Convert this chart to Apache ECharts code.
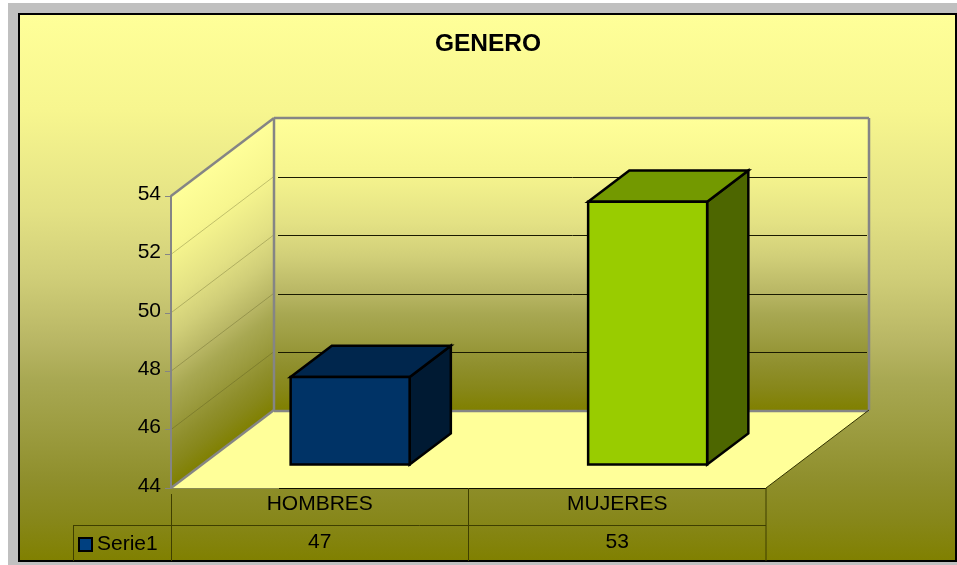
<!DOCTYPE html>
<html><head><meta charset="utf-8">
<style>html,body{margin:0;padding:0;background:#fff}#c{width:957px;height:565px}</style>
<script src="https://cdn.jsdelivr.net/npm/echarts@6/dist/echarts.min.js"></script>
</head><body><div id="c"></div>
<script>
const categories = ['HOMBRES', 'MUJERES'];
const seriesName = 'Serie1';
const values = [47, 53];
const axisMin = 44, axisMax = 54, axisStep = 2;
const tickValues = [44, 46, 48, 50, 52, 54];
const chartTitle = 'GENERO';

const DEPTH_X = 103, DEPTH_Y = -78;
const FONT = '"Liberation Sans", Arial, sans-serif';
const facePalette = [
  { front: '#003366', top: '#00264d', side: '#001a33' },
  { front: '#99cc00', top: '#739900', side: '#4d6600' }
];
const gradientStops = [
  { offset: 0, color: '#ffff99' }, { offset: 0.175, color: '#f7f68f' },
  { offset: 0.36, color: '#e3e184' }, { offset: 0.48, color: '#d0ce78' },
  { offset: 0.6, color: '#b8b664' }, { offset: 0.67, color: '#a8a852' },
  { offset: 0.76, color: '#9c9c40' }, { offset: 0.85, color: '#8f8f2c' },
  { offset: 0.925, color: '#87871a' }, { offset: 1, color: '#808000' }
];
const chart = echarts.init(document.getElementById('c'));
const grad = (x, y, x2, y2) => ({ type: 'linear', global: true, x, y, x2, y2, colorStops: gradientStops });
const poly = (points, style, z2) => ({ type: 'polygon', shape: { points }, style, z2 });
const line = (x1, y1, x2, y2, stroke, lineWidth) => ({ type: 'line', shape: { x1, y1, x2, y2 },
  style: { stroke, lineWidth, fill: null } });

function renderWalls(params, api) {
  const g = params.coordSys;
  const L = g.x, R = g.x + g.width, T = g.y, B = g.y + g.height;
  const dx = DEPTH_X, dy = DEPTH_Y;
  const c = [];
  const len = Math.sqrt(dx * dx + dy * dy), h = B - T;
  const nx = -dy / len, ny = dx / len, proj = h * ny;
  c.push(poly([[L, T], [L + dx, T + dy], [L + dx, B + dy], [L, B]],
    { fill: grad(L, T, L + nx * proj, T + ny * proj) }));
  c.push(poly([[L + dx, T + dy], [R + dx, T + dy], [R + dx, B + dy], [L + dx, B + dy]],
    { fill: grad(0, T + dy, 0, B + dy) }));
  c.push(poly([[L, B], [R, B], [R + dx, B + dy], [L + dx, B + dy]], { fill: '#ffff99' }));
  tickValues.forEach(v => {
    if (v === axisMin || v === axisMax) return;
    const y = api.coord([0, v])[1];
    c.push(line(L, y, L + dx, y + dy, 'rgba(70,70,20,0.5)', 0.6));
    const by = Math.ceil(y + dy) + 0.5;
    c.push(line(L + dx + 4, by, R + dx - 2, by, '#1a1a00', 1));
  });
  const grey = '#858585';
  c.push(line(L, T, L + dx, T + dy, grey, 2.5));
  c.push(line(L, B, L + dx, B + dy, grey, 2.5));
  c.push(line(L + dx, T + dy, L + dx, B + dy, grey, 2.5));
  c.push(line(L + dx, T + dy, R + dx, T + dy, grey, 2.5));
  c.push(line(R + dx, T + dy, R + dx, B + dy, grey, 2.5));
  c.push(line(L + dx, B + dy + 1, R + dx, B + dy + 1, grey, 2.5));
  c.push(line(R, B, R + dx, B + dy, '#333300', 1));
  const tableInk = '#3f3f00';
  const mid = g.x + g.width / 2;
  c.push(line(L, B + .5, L + 108, B + .5, '#8a8a50', 1));
  c.push(line(L + 108, B + .5, R, B + .5, '#111100', 1));
  c.push(line(73, B + 37.5, R, B + 37.5, tableInk, 1));
  c.push(line(73.5, B + 37, 73.5, B + 73, tableInk, 1));
  c.push(line(L + .5, B + 6, L + .5, B + 73, tableInk, 1));
  c.push(line(mid, B, mid, B + 73, tableInk, 1));
  c.push(line(R, B, R, B + 73, tableInk, 1));
  return { type: 'group', children: c };
}

function renderBar(params, api) {
  const i = api.value(0), v = api.value(1);
  const top = api.coord([i, v]), base = api.coord([i, axisMin]);
  const band = api.size([1, 0])[0];
  const w = band * 0.4;
  const ox = DEPTH_X * 0.295, oy = DEPTH_Y * 0.3;
  const dx = DEPTH_X * 0.4, dy = DEPTH_Y * 0.4;
  const x0 = top[0] + ox - w / 2, x1 = x0 + w, yT = top[1] + oy, yB = base[1] + oy;
  const p = facePalette[i];
  const stroke = { stroke: '#000', lineWidth: 2.5, lineJoin: 'miter' };
  return { type: 'group', children: [
    poly([[x1, yT], [x1 + dx, yT + dy], [x1 + dx, yB + dy], [x1, yB]], { ...stroke, fill: p.side }),
    poly([[x0, yT], [x0 + dx, yT + dy], [x1 + dx, yT + dy], [x1, yT]], { ...stroke, fill: p.top }),
    poly([[x0, yT], [x1, yT], [x1, yB], [x0, yB]], { ...stroke, fill: p.front }),
    { type: 'text', x: top[0], y: base[1] + 54, style: { text: String(v), font: '21px ' + FONT,
      fill: '#000', align: 'center', verticalAlign: 'middle' } }
  ] };
}

chart.setOption({
  animation: false,
  backgroundColor: '#ffffff',
  graphic: [
    { type: 'rect', z: -10, shape: { x: 8, y: 3, width: 949, height: 562 }, style: { fill: '#c0c0c0' } },
    { type: 'rect', z: -9, shape: { x: 19, y: 14, width: 937, height: 547 },
      style: { fill: grad(0, 14, 0, 561), stroke: '#000', lineWidth: 2 } }
  ],
  title: { text: chartTitle, left: 483, top: 27, textAlign: 'center',
    textStyle: { fontFamily: FONT, fontWeight: 'bold', fontSize: 24.5, color: '#000' } },
  legend: { data: [seriesName], left: 73, top: 529, itemWidth: 13, itemHeight: 13, itemGap: 0,
    icon: 'rect', selectedMode: false,
    itemStyle: { color: '#004080', borderColor: '#000', borderWidth: 2 },
    textStyle: { fontFamily: FONT, fontSize: 21, color: '#000', padding: [0, 0, 2, 0] } },
  grid: { left: 171, top: 196, width: 595, height: 292, containLabel: false },
  xAxis: { type: 'category', data: categories, boundaryGap: true,
    axisLine: { show: false }, axisTick: { show: false }, splitLine: { show: false },
    axisLabel: { margin: 6, fontFamily: FONT, fontSize: 21, color: '#000' } },
  yAxis: { type: 'value', min: axisMin, max: axisMax, interval: axisStep,
    splitLine: { show: false },
    axisLine: { show: true, lineStyle: { color: '#858585', width: 2 } },
    axisTick: { show: true, length: 6, lineStyle: { color: '#858585', width: 1 } },
    axisLabel: { margin: 10, verticalAlign: 'bottom', lineHeight: 4, fontFamily: FONT, fontSize: 21, color: '#000' } },
  series: [
    { type: 'custom', silent: true, z: 0, clip: false, renderItem: renderWalls,
      data: [[0, axisMin]], encode: { x: 0, y: 1 } },
    { name: seriesName, type: 'custom', z: 5, clip: false, renderItem: renderBar,
      itemStyle: { color: '#003366' },
      data: values.map((v, i) => [i, v]), encode: { x: 0, y: 1 } }
  ]
});
</script></body></html>
